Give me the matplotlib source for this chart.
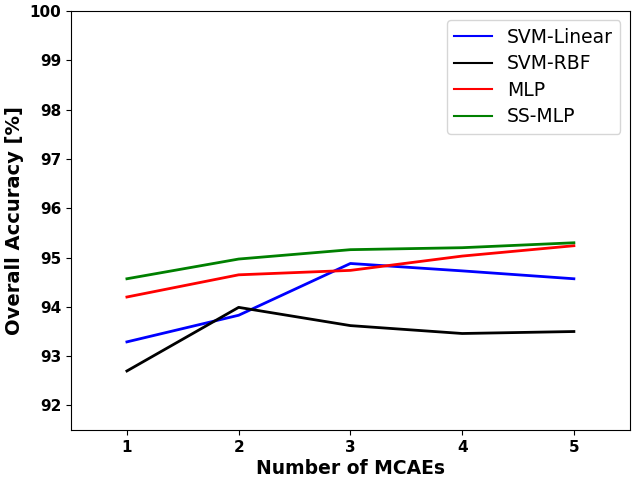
import matplotlib
matplotlib.use("Agg")
import matplotlib.pyplot as plt

# Dados
n_mcaes = [1, 2, 3, 4, 5]
svm_linear = [93.29, 93.83, 94.88, 94.73, 94.57]
svm_rbf = [92.70, 93.99, 93.62, 93.46, 93.50]
mlp = [94.20, 94.65, 94.74, 95.03, 95.24]
ss_mlp = [94.57, 94.97, 95.16, 95.20, 95.30]

fig = plt.figure(figsize=(6.4, 4.79), dpi=100)
ax = fig.add_axes([0.111, 0.102, 0.873, 0.875])

ax.plot(n_mcaes, svm_linear, color='blue', linewidth=2, label='SVM-Linear')
ax.plot(n_mcaes, svm_rbf, color='black', linewidth=2, label='SVM-RBF')
ax.plot(n_mcaes, mlp, color='red', linewidth=2, label='MLP')
ax.plot(n_mcaes, ss_mlp, color='green', linewidth=2, label='SS-MLP')

ax.set_xlim(0.5, 5.5)
ax.set_ylim(91.5, 100)
ax.set_xticks(n_mcaes)
ax.set_yticks(range(92, 101))

ax.set_xlabel('Number of MCAEs', fontsize=13.5, fontweight='bold', labelpad=3)
ax.set_ylabel('Overall Accuracy [%]', fontsize=14, fontweight='bold')
for lbl in ax.get_xticklabels() + ax.get_yticklabels():
    lbl.set_fontweight('bold')
    lbl.set_fontsize(11)

leg = ax.legend(loc='upper right', fontsize=13.5, labelspacing=0.4)
for linha in leg.get_lines():
    linha.set_linewidth(1.5)

fig.savefig('out.png', dpi=100)
